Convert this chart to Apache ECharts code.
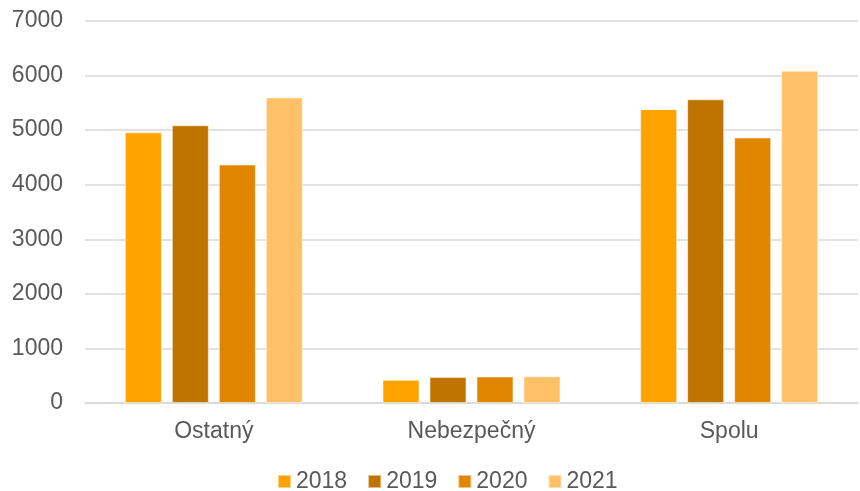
<!DOCTYPE html>
<html><head><meta charset="utf-8">
<script src="https://cdn.jsdelivr.net/npm/echarts@6/dist/echarts.min.js"></script>
<style>html,body{margin:0;padding:0;background:#fff}#c{width:860px;height:491px}</style>
</head><body><div id="c"></div>
<script>
const categories = ['Ostatný', 'Nebezpečný', 'Spolu'];
const years = ['2018', '2019', '2020', '2021'];
const v2018 = [4960, 425, 5385];
const v2019 = [5090, 478, 5565];
const v2020 = [4370, 485, 4865];
const v2021 = [5600, 490, 6090];
const yTicks = [0, 1000, 2000, 3000, 4000, 5000, 6000, 7000];
const colors = ['#FFA300', '#C07400', '#E08600', '#FFC066'];
const seriesValues = [v2018, v2019, v2020, v2021];

const chart = echarts.init(document.getElementById('c'));
chart.setOption({
  animation: false,
  textStyle: { fontFamily: 'Liberation Sans, Arial, sans-serif' },
  grid: { left: 85, right: 2, top: 21, bottom: 88 },
  legend: {
    top: 465, left: 272, itemWidth: 13, itemHeight: 13, itemGap: 20, itemTextGap: 5,
    icon: 'rect',
    textStyle: { fontSize: 23, color: '#595959' },
    data: years
  },
  xAxis: {
    type: 'category', data: categories,
    axisLine: { lineStyle: { color: '#D9D9D9', width: 1.5 } },
    axisTick: { show: false },
    axisLabel: { fontSize: 23, color: '#595959', margin: 17 }
  },
  yAxis: {
    type: 'value', min: yTicks[0], max: yTicks[yTicks.length - 1], interval: 1000,
    axisLine: { show: false }, axisTick: { show: false },
    splitLine: { lineStyle: { color: '#D9D9D9', width: 1.5 } },
    axisLabel: { fontSize: 23, color: '#595959', margin: 22, formatter: v => String(v) }
  },
  series: years.map((y, i) => ({
    name: y, type: 'bar', data: seriesValues[i],
    barWidth: 37, barGap: '27%',
    itemStyle: { color: colors[i], borderColor: 'rgba(255,255,255,0.5)', borderWidth: 1 }
  }))
});
</script></body></html>
